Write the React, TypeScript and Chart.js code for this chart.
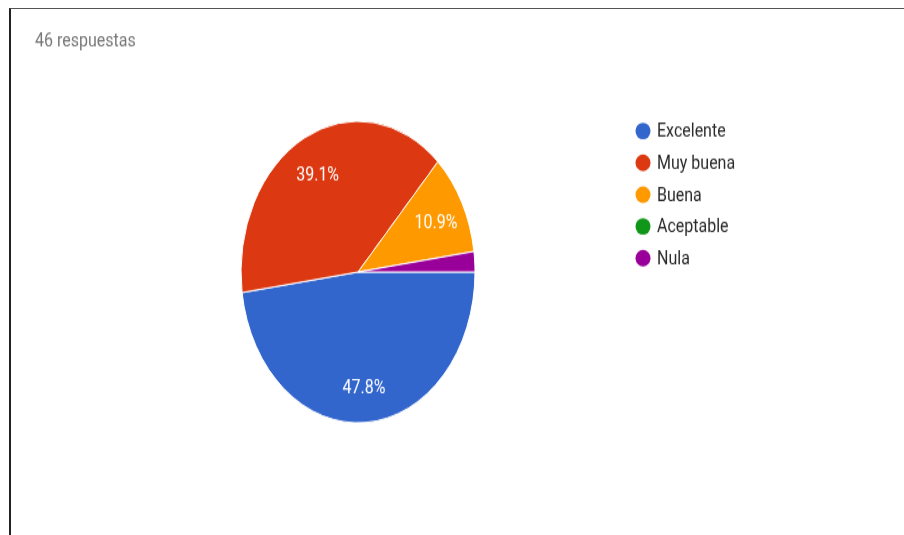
import React, { useEffect, useRef } from "react";
import { Chart, registerables } from "chart.js";

Chart.register(...registerables);

const TITLE = "46 respuestas";
const categories = ["Excelente", "Muy buena", "Buena", "Aceptable", "Nula"];
const responses = [22, 18, 5, 0, 1];
const colors = ["#3366cc", "#dc3912", "#ff9900", "#109618", "#990099"];

const W = 904;
const H = 535;
const IH = 415; // inner (unstretched) canvas height
const S = H / IH; // vertical stretch of the picture
const TEXT_K = 1.16; // final vertical scale for text
const FONT = "16px Roboto, 'Noto Sans', Arial, sans-serif";

const labelsPlugin = {
  id: "sliceLabels",
  afterDatasetsDraw(chart: any) {
    const ctx = chart.ctx;
    const ds = chart.data.datasets[0];
    const vals: number[] = ds.data;
    const total = vals.reduce((a, b) => a + b, 0);
    const meta = chart.getDatasetMeta(0);
    ctx.save();
    ctx.fillStyle = "#ffffff";
    ctx.font = FONT;
    ctx.textAlign = "center";
    ctx.textBaseline = "middle";
    meta.data.forEach((arc: any, i: number) => {
      const frac = vals[i] / total;
      if (frac < 0.05) return;
      const p = arc.getProps(["x", "y", "startAngle", "endAngle", "outerRadius"], true);
      const mid = (p.startAngle + p.endAngle) / 2;
      const r = p.outerRadius * 0.75;
      const x = p.x + Math.cos(mid) * r;
      const y = p.y + Math.sin(mid) * r + 3;
      ctx.save();
      ctx.translate(x, y);
      ctx.scale(1, TEXT_K / S);
      ctx.fillText((frac * 100).toFixed(1) + "%", 0, 0);
      ctx.restore();
    });
    ctx.restore();
  },
};

const legendPlugin = {
  id: "sideLegend",
  afterDraw(chart: any) {
    const ctx = chart.ctx;
    const labels: string[] = chart.data.labels;
    const bg: string[] = chart.data.datasets[0].backgroundColor;
    const x0 = 643;
    const y0 = 131 / S;
    const step = 31.8 / S;
    ctx.save();
    ctx.font = FONT;
    ctx.textAlign = "left";
    ctx.textBaseline = "middle";
    labels.forEach((lab, i) => {
      const y = y0 + i * step;
      ctx.beginPath();
      ctx.fillStyle = bg[i];
      ctx.ellipse(x0, y, 7.5, 8.3 / S, 0, 0, Math.PI * 2);
      ctx.fill();
      ctx.save();
      ctx.translate(657, y + 1);
      ctx.scale(1, TEXT_K / S);
      ctx.fillStyle = "#2a2a2a";
      ctx.fillText(lab, 0, 0);
      ctx.restore();
    });
    // title
    ctx.save();
    ctx.translate(35, 42 / S);
    ctx.scale(1, TEXT_K / S);
    ctx.fillStyle = "#777777";
    ctx.fillText(TITLE, 0, 0);
    ctx.restore();
    ctx.restore();
  },
};

export default function App() {
  const ref = useRef<HTMLCanvasElement | null>(null);

  useEffect(() => {
    if (!ref.current) return;
    const cx = 358;
    const cy = 272 / S;
    const rad = 117;
    const chart = new Chart(ref.current, {
      type: "pie",
      data: {
        labels: categories,
        datasets: [
          {
            data: responses,
            backgroundColor: colors,
            borderColor: "#ffffff",
            borderWidth: 1,
            hoverOffset: 0,
          },
        ],
      },
      options: {
        responsive: false,
        animation: false,
        devicePixelRatio: 1,
        rotation: 90,
        radius: rad,
        layout: {
          padding: {
            left: cx - rad,
            right: W - (cx + rad),
            top: cy - rad,
            bottom: IH - (cy + rad),
          },
        },
        plugins: {
          legend: { display: false },
          title: { display: false },
          tooltip: { enabled: false },
        },
      } as any,
      plugins: [labelsPlugin, legendPlugin],
    });
    return () => chart.destroy();
  }, []);

  return (
    <div
      style={{
        position: "absolute",
        left: 0,
        top: 0,
        width: W,
        height: H,
        overflow: "hidden",
        background: "#ffffff",
      }}
    >
      <div
        style={{
          position: "absolute",
          left: 0,
          top: 0,
          width: W,
          height: IH,
          transform: `scale(1, ${S})`,
          transformOrigin: "0 0",
        }}
      >
        <canvas ref={ref} width={W} height={IH} style={{ display: "block", width: W, height: IH }} />
      </div>
      <div
        style={{
          position: "absolute",
          left: 9,
          top: 8,
          width: W - 9,
          height: H - 8,
          borderTop: "1px solid #555555",
          borderLeft: "2px solid #222222",
          boxSizing: "border-box",
        }}
      />
    </div>
  );
}
